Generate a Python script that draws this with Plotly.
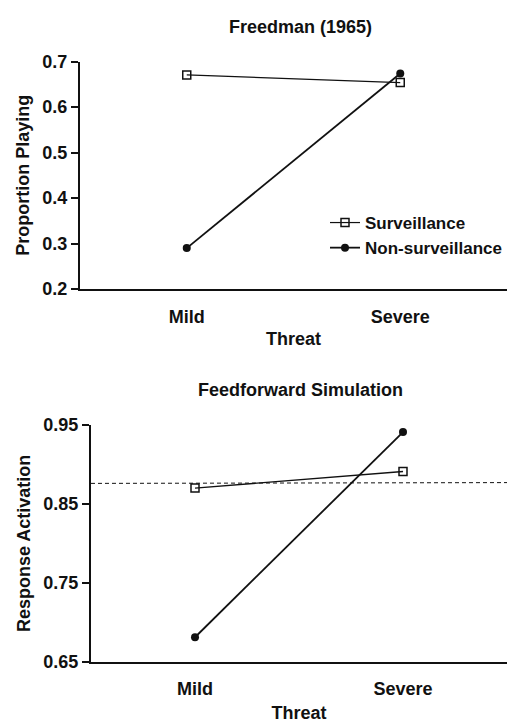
import plotly.graph_objects as go

threat = ["Mild", "Severe"]
freedman_surv = [0.671, 0.654]
freedman_nonsurv = [0.290, 0.674]
sim_surv = [0.870, 0.891]
sim_nonsurv = [0.681, 0.941]
sim_baseline = [0.876, 0.877]
top_ticks = [0.2, 0.3, 0.4, 0.5, 0.6, 0.7]
bot_ticks = [0.65, 0.75, 0.85, 0.95]

W, H = 515, 724
FONT = "Liberation Sans"
FS = 18
xpos = [0, 1]

fig = go.Figure()
fig.add_trace(go.Scatter(x=xpos, y=freedman_surv, mode="lines+markers", name="Surveillance",
                         line=dict(color="#111", width=1.2),
                         marker=dict(symbol="square-open", size=8, color="#111", line=dict(width=1.5)),
                         xaxis="x", yaxis="y"))
fig.add_trace(go.Scatter(x=xpos, y=freedman_nonsurv, mode="lines+markers", name="Non-surveillance",
                         line=dict(color="#111", width=1.8),
                         marker=dict(symbol="circle", size=8, color="#111"),
                         xaxis="x", yaxis="y"))
fig.add_trace(go.Scatter(x=[-0.5, 1.5], y=sim_baseline, mode="lines", showlegend=False,
                         line=dict(color="#111", width=1, dash="4px,3px"),
                         xaxis="x2", yaxis="y2"))
fig.add_trace(go.Scatter(x=xpos, y=sim_surv, mode="lines+markers", showlegend=False,
                         line=dict(color="#111", width=1.4),
                         marker=dict(symbol="square-open", size=8, color="#111", line=dict(width=1.5)),
                         xaxis="x2", yaxis="y2"))
fig.add_trace(go.Scatter(x=xpos, y=sim_nonsurv, mode="lines+markers", showlegend=False,
                         line=dict(color="#111", width=1.8),
                         marker=dict(symbol="circle", size=8, color="#111"),
                         xaxis="x2", yaxis="y2"))

def xax(domain, anchor, title_standoff):
    return dict(domain=domain, anchor=anchor, range=[-0.5, 1.5],
                tickvals=xpos, ticktext=threat, showgrid=False, zeroline=False,
                showline=True, linecolor="#111", linewidth=2, ticks="",
                ticklabelstandoff=10,
                tickfont=dict(family=FONT, size=FS, color="#111", weight="bold"),
                title=dict(text="Threat", standoff=title_standoff,
                           font=dict(family=FONT, size=FS, color="#111", weight="bold")),
                automargin=False)

def yax(domain, anchor, rng, ticks, fmt, title):
    return dict(domain=domain, anchor=anchor, range=rng, tickvals=ticks,
                tickformat=fmt, showgrid=False, zeroline=False,
                showline=True, linecolor="#111", linewidth=2,
                ticks="outside", ticklen=7, tickwidth=1.5, tickcolor="#111",
                ticklabelstandoff=0,
                tickfont=dict(family=FONT, size=FS, color="#111", weight="bold"),
                title=dict(text=title, standoff=8,
                           font=dict(family=FONT, size=FS, color="#111", weight="bold")),
                automargin=False)

fig.update_layout(
    width=W, height=H, margin=dict(l=0, r=0, t=0, b=0),
    paper_bgcolor="white", plot_bgcolor="white",
    font=dict(family=FONT, color="#111"),
    xaxis=xax([80 / W, 507 / W], "y", 7),
    yaxis=yax([1 - 289 / H, 1 - 61.7 / H], "x", [0.2, 0.7], top_ticks, ".1f", "Proportion Playing"),
    xaxis2=xax([91 / W, 507 / W], "y2", 8),
    yaxis2=yax([1 - 661.7 / H, 1 - 425 / H], "x2", [0.65, 0.95], bot_ticks, ".2f", "Response Activation"),
    legend=dict(x=325 / W, y=1 - 205 / H, xanchor="left", yanchor="top",
                bgcolor="rgba(0,0,0,0)", itemwidth=30, tracegroupgap=0,
                font=dict(family=FONT, size=17, color="#111", weight="bold")),
    showlegend=True,
    annotations=[
        dict(text="Freedman (1965)", x=300 / W, y=1 - 15 / H, xref="paper", yref="paper",
             showarrow=False, font=dict(family=FONT, size=FS, color="#111", weight="bold")),
        dict(text="Feedforward Simulation", x=300 / W, y=1 - 390 / H, xref="paper", yref="paper",
             showarrow=False, font=dict(family=FONT, size=FS, color="#111", weight="bold")),
    ],
)

fig.write_html("out.html")
